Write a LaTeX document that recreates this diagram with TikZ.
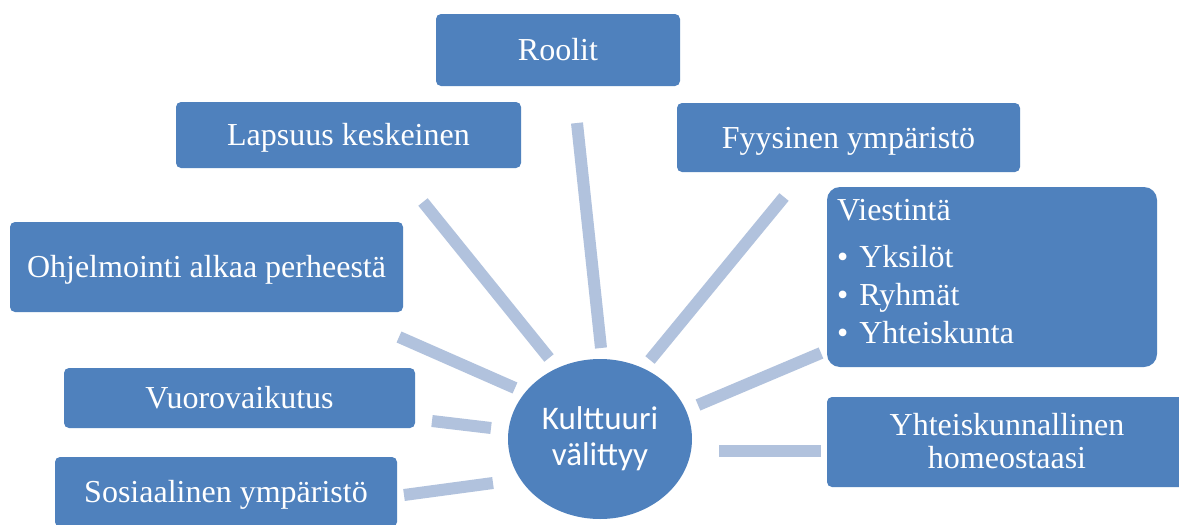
\documentclass[tikz,border=0pt]{standalone}
\usepackage{fontspec}
\setmainfont{Liberation Serif}
\newfontfamily\hubfont{Carlito}
\usetikzlibrary{shapes.geometric}
\definecolor{boxblue}{HTML}{4F81BD}
\definecolor{spokeblue}{HTML}{B1C2DD}
\begin{document}
\begin{tikzpicture}[x=1pt,y=-1pt,
  box/.style={fill=boxblue, rounded corners=5pt, text=white, inner sep=0pt,
    font=\fontsize{32}{36}\selectfont, text height=29pt, text depth=8pt},
  listbox/.style={box, rounded corners=13pt},
  boxtext/.style={text=white, inner sep=0pt, font=\fontsize{32}{36}\selectfont},
  hub/.style={ellipse, fill=boxblue, text=white, inner sep=0pt, align=center,
    font=\hubfont\fontsize{33}{36}\selectfont},
  spoke/.style={draw=spokeblue, line width=12pt}
]
\useasboundingbox (0,0) rectangle (1179,525);
\fill[white] (0,0) rectangle (1179,525);

% outer boxes
\node[box, minimum width=244pt, minimum height=72pt] (roolit) at (558,50) {Roolit};
\node[box, minimum width=345pt, minimum height=66pt] (lapsuus) at (348.5,135) {Lapsuus keskeinen};
\node[box, minimum width=343pt, minimum height=69pt] (fyys) at (848.5,137.5) {Fyysinen ympäristö};
\node[listbox, minimum width=330pt, minimum height=180pt] (viest) at (992,277) {};
\node[box, minimum width=393pt, minimum height=90pt] (ohjel) at (206.5,267) {Ohjelmointi alkaa perheestä};
\node[box, minimum width=351pt, minimum height=60pt] (vuoro) at (239.5,398) {Vuorovaikutus};
\node[box, minimum width=342pt, minimum height=70pt] (sosi) at (226,492) {Sosiaalinen ympäristö};
\node[box, minimum width=360pt, minimum height=90pt] (yhteis) at (1007,442) {};

% text of the list box
\node[boxtext, anchor=base west] (vtitle) at (837,220) {Viestintä};
\node[boxtext, anchor=base west] (v1) at (837,267) {•\hspace{11pt}Yksilöt};
\node[boxtext, anchor=base west] (v2) at (837,305) {•\hspace{11pt}Ryhmät};
\node[boxtext, anchor=base west] (v3) at (837,343) {•\hspace{11pt}Yhteiskunta};

% two-line text of the lower right box
\node[boxtext, anchor=base] (y1) at (1007,435) {Yhteiskunnallinen};
\node[boxtext, anchor=base] (y2) at (1007,468) {homeostaasi};

% hub
\node[hub, minimum width=184pt, minimum height=160pt] (hub) at (600,439) {\raisebox{-2pt}{Kulttuuri}\\\raisebox{-2pt}{välittyy}};

% spoke end points
\coordinate (r1) at (577,123);  \coordinate (r2) at (601,348);
\coordinate (l1) at (423,202);  \coordinate (l2) at (549,358);
\coordinate (f1) at (784,197);  \coordinate (f2) at (650,360);
\coordinate (v1a) at (821,353); \coordinate (v1b) at (698,405);
\coordinate (o1) at (399,337);  \coordinate (o2) at (515,388);
\coordinate (w1) at (432,421);  \coordinate (w2) at (491,428);
\coordinate (s1) at (404,495);  \coordinate (s2) at (493,483);
\coordinate (h1) at (719,451);  \coordinate (h2) at (821,451);

% spokes
\draw[spoke] (r1) -- (r2);
\draw[spoke] (l1) -- (l2);
\draw[spoke] (f1) -- (f2);
\draw[spoke] (v1a) -- (v1b);
\draw[spoke] (o1) -- (o2);
\draw[spoke] (w1) -- (w2);
\draw[spoke] (s1) -- (s2);
\draw[spoke] (h1) -- (h2);
\end{tikzpicture}
\end{document}
